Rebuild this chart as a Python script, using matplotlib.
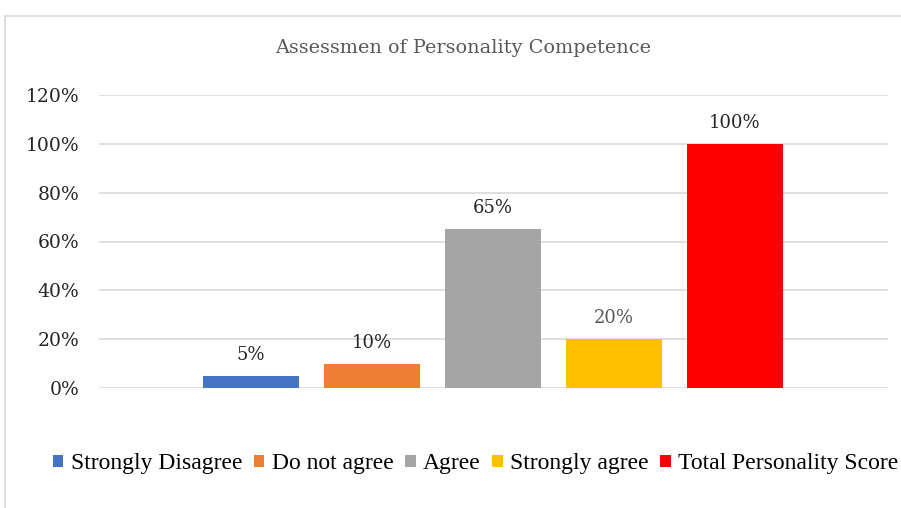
import matplotlib.pyplot as plt
from matplotlib.patches import Rectangle, Patch
from matplotlib.ticker import PercentFormatter

# data
categories = ['Strongly Disagree', 'Do not agree', 'Agree', 'Strongly agree',
              'Total Personality Score']
values = [5, 10, 65, 20, 100]
colors = ['#4472C4', '#ED7D31', '#A5A5A5', '#FFC000', '#FF0000']
label_colors = ['#262626', '#262626', '#262626', '#595959', '#262626']
yticks = [0, 20, 40, 60, 80, 100, 120]
title = 'Assessmen of Personality Competence'

W, H = 901, 508
fig = plt.figure(figsize=(W / 100, H / 100), dpi=100)

# light chart border (runs off the right edge like the reference)
fig.patches.append(Rectangle((5 / W, -0.1), 1.2, (H - 16) / H + 0.1,
                             transform=fig.transFigure, fill=False,
                             edgecolor='#D9D9D9', linewidth=1.2))

ax = fig.add_axes([99 / W, 120 / H, (888 - 99) / W, (388 - 95) / H])
x = list(range(len(values)))
bars = ax.bar(x, values, width=96 / 121, color=colors, zorder=3)

ax.set_xlim(-1.256, 5.264)
ax.set_ylim(0, 120)
ax.set_yticks(yticks)
ax.yaxis.set_major_formatter(PercentFormatter(decimals=0))
ax.grid(axis='y', color='#D9D9D9', linewidth=1.2, zorder=0)
ax.set_xticks([])
for s in ax.spines.values():
    s.set_visible(False)
ax.tick_params(axis='y', length=0, pad=14, labelsize=13.5, labelcolor='#262626')
for lab in ax.get_yticklabels():
    lab.set_family('DejaVu Serif')

for xi, v, c in zip(x, values, label_colors):
    ax.annotate(f'{v}%', (xi, v), xytext=(0, 11.5), textcoords='offset points',
                ha='center', va='baseline', fontsize=13, color=c,
                family='DejaVu Serif')

fig.text(463 / W, 1 - 48 / H, title, ha='center', va='center', fontsize=13.9,
         color='#595959', family='DejaVu Serif')

handles = [Patch(facecolor=c) for c in colors]
fig.legend(handles, categories, loc='center left',
           bbox_to_anchor=(41 / W, 1 - 464 / H), ncol=5, frameon=False,
           prop={'family': 'Liberation Serif', 'size': 17},
           handlelength=0.45, handleheight=0.45, handletextpad=0.3,
           columnspacing=0.5, borderpad=0, labelcolor='#000000')

fig.savefig('out.png', dpi=100)
